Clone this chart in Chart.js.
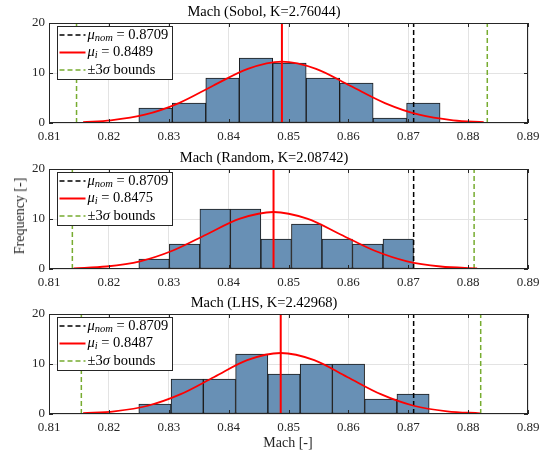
<!DOCTYPE html>
<html>
<head>
<meta charset="utf-8">
<script src="https://cdn.jsdelivr.net/npm/chart.js@4"></script>
<style>
  body { margin: 0; background: #fff; }
  #wrap { position: relative; width: 540px; height: 453px; font-family: 'Liberation Serif', serif; color: #262626; }
  .pane { position: absolute; left: 0; width: 540px; height: 146px; }
  #ylab { position: absolute; left: 20px; top: 216px; transform: translate(-50%, -50%) rotate(-90deg); font-size: 14px; white-space: nowrap; }
  #xlab { position: absolute; left: 288px; top: 443px; transform: translate(-50%, -50%); font-size: 14px; white-space: nowrap; }
</style>
</head>
<body>
<div id="wrap">
  <div class="pane" style="top:0px"><canvas id="c0" width="540" height="146"></canvas></div>
  <div class="pane" style="top:146px"><canvas id="c1" width="540" height="146"></canvas></div>
  <div class="pane" style="top:291px"><canvas id="c2" width="540" height="146"></canvas></div>
  <div id="ylab">Frequency [-]</div>
  <div id="xlab">Mach [-]</div>
</div>
<script>
// ---- data ----
const titles = ["Mach (Sobol, K=2.76044)", "Mach (Random, K=2.08742)", "Mach (LHS, K=2.42968)"]
const nominal = 0.8709
const means = [0.8489, 0.8475, 0.8487]
const lowerBounds = [0.8146, 0.8139, 0.8154]
const upperBounds = [0.8832, 0.8810, 0.8821]

const sobolCenters = [0.82780, 0.83339, 0.83898, 0.84457, 0.85016, 0.85575, 0.86134, 0.86693, 0.87252]
const sobolCounts = [3, 4, 9, 13, 12, 9, 8, 1, 4]
const randomCenters = [0.82755, 0.83265, 0.83775, 0.84284, 0.84794, 0.85304, 0.85814, 0.86323, 0.86833]
const randomCounts = [2, 5, 12, 12, 6, 9, 6, 5, 6]
const lhsCenters = [0.82769, 0.83308, 0.83847, 0.84386, 0.84925, 0.85464, 0.86002, 0.86541, 0.87080]
const lhsCounts = [2, 7, 7, 12, 8, 10, 10, 3, 4]

// fitted normal curves
const sobolFitX = [0.8157, 0.8203, 0.8260, 0.8317, 0.8374, 0.8432, 0.8489, 0.8546, 0.8603, 0.8661, 0.8718, 0.8775, 0.8826]
const sobolFitY = [0.18, 0.54, 1.66, 3.99, 7.45, 10.84, 12.28, 10.84, 7.45, 3.99, 1.66, 0.54, 0.16]
const randomFitX = [0.8141, 0.8196, 0.8252, 0.8307, 0.8363, 0.8419, 0.8475, 0.8531, 0.8587, 0.8643, 0.8698, 0.8754, 0.8815]
const randomFitY = [0.13, 0.50, 1.54, 3.70, 6.91, 10.06, 11.40, 10.06, 6.91, 3.70, 1.54, 0.50, 0.11]
const lhsFitX = [0.8157, 0.8209, 0.8265, 0.8320, 0.8376, 0.8431, 0.8487, 0.8543, 0.8598, 0.8654, 0.8709, 0.8765, 0.8820]
const lhsFitY = [0.15, 0.54, 1.65, 3.96, 7.40, 10.77, 12.20, 10.77, 7.40, 3.96, 1.65, 0.54, 0.14]

const xTickMin = 0.81
const xTickMax = 0.89
const yTickMax = 20

const panels = [
    { centers: sobolCenters, counts: sobolCounts, fitX: sobolFitX, fitY: sobolFitY },
    { centers: randomCenters, counts: randomCounts, fitX: randomFitX, fitY: randomFitY },
    { centers: lhsCenters, counts: lhsCounts, fitX: lhsFitX, fitY: lhsFitY },
]

const FONT = "'Liberation Serif', serif"
const AXIS = "#262626"
const BAR = "#6890b5"
const RED = "#ff0000"
const GREEN = "#77ac30"

function vline(v){
    return [{x: v, y: 0}, {x: v, y: yTickMax}]
}

// legend + axes box, MATLAB style
const matlabBox = {
    id: "matlabBox",
    afterDraw(chart){
        const ctx = chart.ctx
        const a = chart.chartArea
        const sx = chart.scales.x, sy = chart.scales.y
        ctx.save()
        ctx.strokeStyle = AXIS
        ctx.lineWidth = 1
        ctx.beginPath()
        sx.ticks.forEach((t, i) => {
            const px = Math.round(sx.getPixelForTick(i)) + 0.5
            ctx.moveTo(px, a.bottom); ctx.lineTo(px, a.bottom - 4)
            ctx.moveTo(px, a.top); ctx.lineTo(px, a.top + 4)
        })
        sy.ticks.forEach((t, i) => {
            const py = Math.round(sy.getPixelForTick(i)) + 0.5
            ctx.moveTo(a.left, py); ctx.lineTo(a.left + 4, py)
            ctx.moveTo(a.right, py); ctx.lineTo(a.right - 4, py)
        })
        ctx.stroke()
        ctx.strokeRect(Math.round(a.left) + 0.5, Math.round(a.top) + 0.5, Math.round(a.right - a.left) - 1, Math.round(a.bottom - a.top) - 1)

        // legend
        const k = chart.options.plugins.matlabBox.index
        const rows = [
            { color: "#000", dash: [5, 3], parts: [["\u03bc", "i"], ["nom", "sub"], [" = " + nominal.toFixed(4), "n"]] },
            { color: RED, dash: [], parts: [["\u03bc", "i"], ["i", "sub"], [" = " + means[k].toFixed(4), "n"]] },
            { color: GREEN, dash: [5, 3], parts: [["\u00b13", "n"], ["\u03c3", "i"], [" bounds", "n"]] },
        ]
        const fontOf = s => s === "sub" ? "italic 10.5px " + FONT : (s === "i" ? "italic 14.5px " + FONT : "14.5px " + FONT)
        let maxW = 0
        rows.forEach(r => {
            let w = 0
            r.parts.forEach(p => { ctx.font = fontOf(p[1]); w += ctx.measureText(p[0]).width })
            maxW = Math.max(maxW, w)
        })
        const bx = Math.round(a.left + 8) + 0.5, by = Math.round(a.top + 3) + 0.5
        const bw = Math.round(30 + maxW + 4), bh = 53
        ctx.fillStyle = "#fff"
        ctx.fillRect(bx, by, bw, bh)
        ctx.strokeStyle = AXIS
        ctx.setLineDash([])
        ctx.strokeRect(bx, by, bw, bh)
        rows.forEach((r, i) => {
            const ly = by + 8.5 + i * 17.5
            ctx.strokeStyle = r.color
            ctx.lineWidth = r.color === RED ? 2 : 1.5
            ctx.setLineDash(r.dash)
            ctx.beginPath(); ctx.moveTo(bx + 2, ly); ctx.lineTo(bx + 28, ly); ctx.stroke()
            ctx.setLineDash([])
            let tx = bx + 30
            ctx.fillStyle = "#000"
            ctx.textBaseline = "middle"
            r.parts.forEach(p => {
                ctx.font = fontOf(p[1])
                ctx.fillText(p[0], tx, p[1] === "sub" ? ly + 3 : ly)
                tx += ctx.measureText(p[0]).width
            })
        })
        ctx.restore()
    }
}

panels.forEach((p, k) => {
    const ctx = document.getElementById("c" + k).getContext("2d")
    new Chart(ctx, {
        type: "bar",
        data: {
            datasets: [
                { type: "line", data: vline(means[k]), borderColor: RED, borderWidth: 2, pointRadius: 0, order: 0 },
                { type: "line", data: p.fitX.map((x, i) => ({x: x, y: p.fitY[i]})), borderColor: RED, borderWidth: 1.8, pointRadius: 0, cubicInterpolationMode: "monotone", order: 1 },
                { type: "line", data: vline(nominal), borderColor: "#000", borderWidth: 1.5, borderDash: [5, 3], pointRadius: 0, order: 2 },
                { type: "line", data: vline(lowerBounds[k]), borderColor: GREEN, borderWidth: 1.5, borderDash: [5, 3], pointRadius: 0, order: 3 },
                { type: "line", data: vline(upperBounds[k]), borderColor: GREEN, borderWidth: 1.5, borderDash: [5, 3], pointRadius: 0, order: 4 },
                { type: "bar", data: p.centers.map((x, i) => ({x: x, y: p.counts[i]})), backgroundColor: BAR, borderColor: "#1a1a1a", borderWidth: 1, borderSkipped: false, barPercentage: 1, categoryPercentage: 1, order: 10 },
            ]
        },
        options: {
            responsive: false,
            animation: false,
            layout: { padding: { left: 0, right: 12, top: 0, bottom: 0 } },
            plugins: {
                legend: { display: false },
                tooltip: { enabled: false },
                title: { display: true, text: titles[k], color: "#000", font: { family: FONT, size: 14.5, weight: "normal", lineHeight: 1.2 }, padding: { top: 3.5, bottom: 2.1 } },
                matlabBox: { index: k },
            },
            scales: {
                x: {
                    type: "linear", min: xTickMin, max: xTickMax, offset: false,
                    grid: { offset: false, color: "#e3e3e3", drawTicks: false },
                    border: { display: false },
                    ticks: { stepSize: 0.01, padding: 6, color: AXIS, font: { family: FONT, size: 13 }, maxRotation: 0, callback: v => v.toFixed(2) },
                    afterFit: s => { s.height = 23; s.paddingLeft = 0; s.paddingRight = 0 },
                },
                y: {
                    min: 0, max: yTickMax,
                    grid: { color: "#e3e3e3", drawTicks: false },
                    border: { display: false },
                    ticks: { stepSize: 10, padding: 4, color: AXIS, font: { family: FONT, size: 13 } },
                    afterFit: s => { s.width = 49 },
                },
            },
        },
        plugins: [matlabBox],
    })
})
</script>
</body>
</html>
